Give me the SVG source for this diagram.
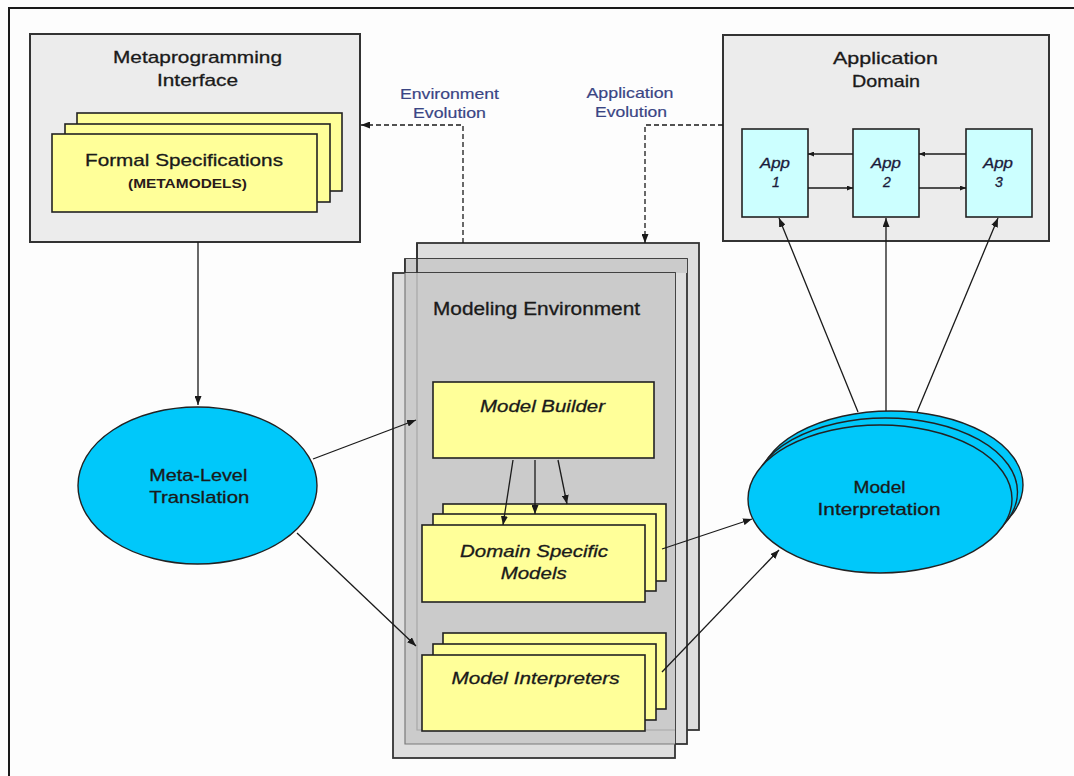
<svg xmlns="http://www.w3.org/2000/svg" width="1074" height="776" viewBox="0 0 1074 776">
  <defs>
    <marker id="arrow" markerUnits="userSpaceOnUse" markerWidth="9" markerHeight="7" refX="9" refY="3.5" orient="auto">
      <path d="M0,0 L9,3.5 L0,7 z" fill="#1a1a1a"/>
    </marker>
    <marker id="arrowSmall" markerUnits="userSpaceOnUse" markerWidth="6" markerHeight="5" refX="6" refY="2.5" orient="auto">
      <path d="M0,0 L6,2.5 L0,5 z" fill="#1a1a1a"/>
    </marker>
    <style>
      text { font-family: "Liberation Sans", Arial, sans-serif; fill: #1a1a1a; text-anchor: middle; stroke: #1a1a1a; stroke-width: 0.3; }
      .title { font-size: 17px; }
      .label { font-size: 15px; fill: #3a4584; stroke: #3a4584; stroke-width: 0.2; }
      .ital { font-size: 17px; font-style: italic; }
      .app { font-size: 14px; font-style: italic; fill: #1a1a3a; stroke: #1a1a3a; }
      .sub { font-size: 12px; font-weight: bold; fill: #2a1a1a; stroke: none; }
      .panel { fill: #ececec; stroke: #333; stroke-width: 2; }
      .note { fill: #ffff99; stroke: #222; stroke-width: 1.6; }
      .app-box { fill: #ccffff; stroke: #222; stroke-width: 1.6; }
      .oval { fill: #00c8fa; stroke: #222; stroke-width: 1.4; }
      .env { stroke: #333; stroke-width: 1.8; }
      .wire { fill: none; stroke: #1a1a1a; stroke-width: 1.3; }
      .dash { fill: none; stroke: #1a1a1a; stroke-width: 1.3; stroke-dasharray: 5 3; }
    </style>
  </defs>

  <rect width="1074" height="776" fill="#fdfdfd"/>
  <!-- page frame -->
  <path d="M9,776 L9,8 L1074,8" fill="none" stroke="#1a1a1a" stroke-width="2"/>

  <!-- Metaprogramming Interface -->
  <g id="metaprogramming-interface">
    <rect class="panel" x="30" y="34" width="330" height="208"/>
    <text class="title" x="197.5" y="63" textLength="169" lengthAdjust="spacingAndGlyphs">Metaprogramming</text>
    <text class="title" x="197.5" y="86" textLength="81" lengthAdjust="spacingAndGlyphs">Interface</text>
  </g>

  <g id="formal-specifications">
    <rect class="note" x="77" y="113" width="265" height="78"/>
    <rect class="note" x="65" y="124" width="265" height="78"/>
    <rect class="note" x="52" y="134" width="265" height="78"/>
    <text class="title" x="184" y="166" textLength="198" lengthAdjust="spacingAndGlyphs">Formal Specifications</text>
    <text class="sub" x="187.5" y="188" textLength="119" lengthAdjust="spacingAndGlyphs">(METAMODELS)</text>
  </g>

  <!-- Application Domain -->
  <g id="application-domain">
    <rect class="panel" x="723" y="35" width="326" height="206"/>
    <text class="title" x="885.5" y="64" textLength="105" lengthAdjust="spacingAndGlyphs">Application</text>
    <text class="title" x="886" y="87" textLength="68" lengthAdjust="spacingAndGlyphs">Domain</text>
  </g>

  <g id="app-1">
    <rect class="app-box" x="742" y="129" width="66" height="88"/>
    <text class="app" x="775" y="168" textLength="30" lengthAdjust="spacingAndGlyphs">App</text>
    <text class="app" x="776" y="187">1</text>
  </g>
  <g id="app-2">
    <rect class="app-box" x="853" y="129" width="66" height="88"/>
    <text class="app" x="886" y="168" textLength="30" lengthAdjust="spacingAndGlyphs">App</text>
    <text class="app" x="887" y="187">2</text>
  </g>
  <g id="app-3">
    <rect class="app-box" x="966" y="129" width="66" height="88"/>
    <text class="app" x="998" y="168" textLength="30" lengthAdjust="spacingAndGlyphs">App</text>
    <text class="app" x="999" y="187">3</text>
  </g>

  <!-- Modeling Environment: three stacked sheets -->
  <g id="modeling-environment">
    <rect class="env" x="417" y="243" width="282" height="487" fill="#dedede"/>
    <rect class="env" x="405" y="259" width="282" height="485" fill="#dedede"/>
    <rect x="405" y="259" width="282" height="14" fill="#cbcbcb"/>
    <rect class="env" x="393" y="273" width="282" height="485" fill="#dedede"/>
    <rect x="405" y="273" width="270" height="471" fill="#cbcbcb"/>
    <!-- edges of the rear sheets showing through -->
    <path d="M405,273 L405,744 L675,744" fill="none" stroke="#7a7a7a" stroke-width="1.2"/>
    <path d="M417,273 L417,730 L675,730" fill="none" stroke="#a8a8a8" stroke-width="1.2"/>
    <path d="M405,259 L405,273 M417,243 L417,273" fill="none" stroke="#333" stroke-width="1.8"/>
    <text class="title" x="536.5" y="315" style="font-size:18px" textLength="207" lengthAdjust="spacingAndGlyphs">Modeling Environment</text>
  </g>

  <g id="model-builder">
    <rect class="note" x="433" y="382" width="221" height="76"/>
    <text class="ital" x="542.5" y="412" textLength="125" lengthAdjust="spacingAndGlyphs">Model Builder</text>
  </g>

  <g id="domain-specific-models">
    <rect class="note" x="443" y="504" width="223" height="77"/>
    <rect class="note" x="433" y="514" width="223" height="77"/>
    <rect class="note" x="422" y="525" width="223" height="77"/>
    <text class="ital" x="534" y="557" textLength="148" lengthAdjust="spacingAndGlyphs">Domain Specific</text>
    <text class="ital" x="533.7" y="579" textLength="66" lengthAdjust="spacingAndGlyphs">Models</text>
  </g>

  <g id="model-interpreters">
    <rect class="note" x="443" y="633" width="223" height="76"/>
    <rect class="note" x="433" y="644" width="223" height="76"/>
    <rect class="note" x="422" y="655" width="223" height="76"/>
    <text class="ital" x="535.5" y="684" textLength="168" lengthAdjust="spacingAndGlyphs">Model Interpreters</text>
  </g>

  <!-- Meta-Level Translation -->
  <g id="meta-level-translation">
    <ellipse class="oval" cx="197.5" cy="485.5" rx="119.5" ry="78.5"/>
    <text class="title" x="198.3" y="481" textLength="98" lengthAdjust="spacingAndGlyphs">Meta-Level</text>
    <text class="title" x="199.3" y="503" textLength="100" lengthAdjust="spacingAndGlyphs">Translation</text>
  </g>

  <!-- Model Interpretation: stacked ovals -->
  <g id="model-interpretation">
    <ellipse class="oval" cx="891" cy="485" rx="132" ry="74"/>
    <ellipse class="oval" cx="885.5" cy="492" rx="132" ry="74"/>
    <ellipse class="oval" cx="880" cy="499" rx="132" ry="74"/>
    <text class="title" x="879.5" y="493" textLength="52" lengthAdjust="spacingAndGlyphs">Model</text>
    <text class="title" x="879" y="515" textLength="123" lengthAdjust="spacingAndGlyphs">Interpretation</text>
  </g>

  <!-- connectors -->
  <g id="connectors">
    <path class="wire" d="M198,242 L198,405" marker-end="url(#arrow)"/>
    <path class="wire" d="M313,459 L416,420" marker-end="url(#arrow)"/>
    <path class="wire" d="M297,533 L416,646" marker-end="url(#arrow)"/>

    <path class="wire" d="M513,460 L503,525" marker-end="url(#arrow)"/>
    <path class="wire" d="M535,460 L535,514" marker-end="url(#arrow)"/>
    <path class="wire" d="M558,460 L567,504" marker-end="url(#arrow)"/>

    <path class="wire" d="M662,549 L752,519" marker-end="url(#arrow)"/>
    <path class="wire" d="M662,672 L779,550" marker-end="url(#arrow)"/>

    <path class="wire" d="M858,412 L779,218" marker-end="url(#arrow)"/>
    <path class="wire" d="M886,411 L886,218" marker-end="url(#arrow)"/>
    <path class="wire" d="M917,412 L998,218" marker-end="url(#arrow)"/>

    <path class="wire" d="M853,154 L808,154" marker-end="url(#arrowSmall)"/>
    <path class="wire" d="M966,154 L919,154" marker-end="url(#arrowSmall)"/>
    <path class="wire" d="M808,188 L853,188" marker-end="url(#arrowSmall)"/>
    <path class="wire" d="M919,188 L966,188" marker-end="url(#arrowSmall)"/>

    <path class="dash" d="M463,243 L463,125 L361,125" marker-end="url(#arrow)"/>
    <path class="dash" d="M723,125 L645,125 L645,243" marker-end="url(#arrow)"/>

    <text class="label" x="449.5" y="99" textLength="99" lengthAdjust="spacingAndGlyphs">Environment</text>
    <text class="label" x="449.5" y="118" textLength="73" lengthAdjust="spacingAndGlyphs">Evolution</text>
    <text class="label" x="630" y="98" textLength="87" lengthAdjust="spacingAndGlyphs">Application</text>
    <text class="label" x="631" y="117" textLength="72" lengthAdjust="spacingAndGlyphs">Evolution</text>
  </g>
</svg>
